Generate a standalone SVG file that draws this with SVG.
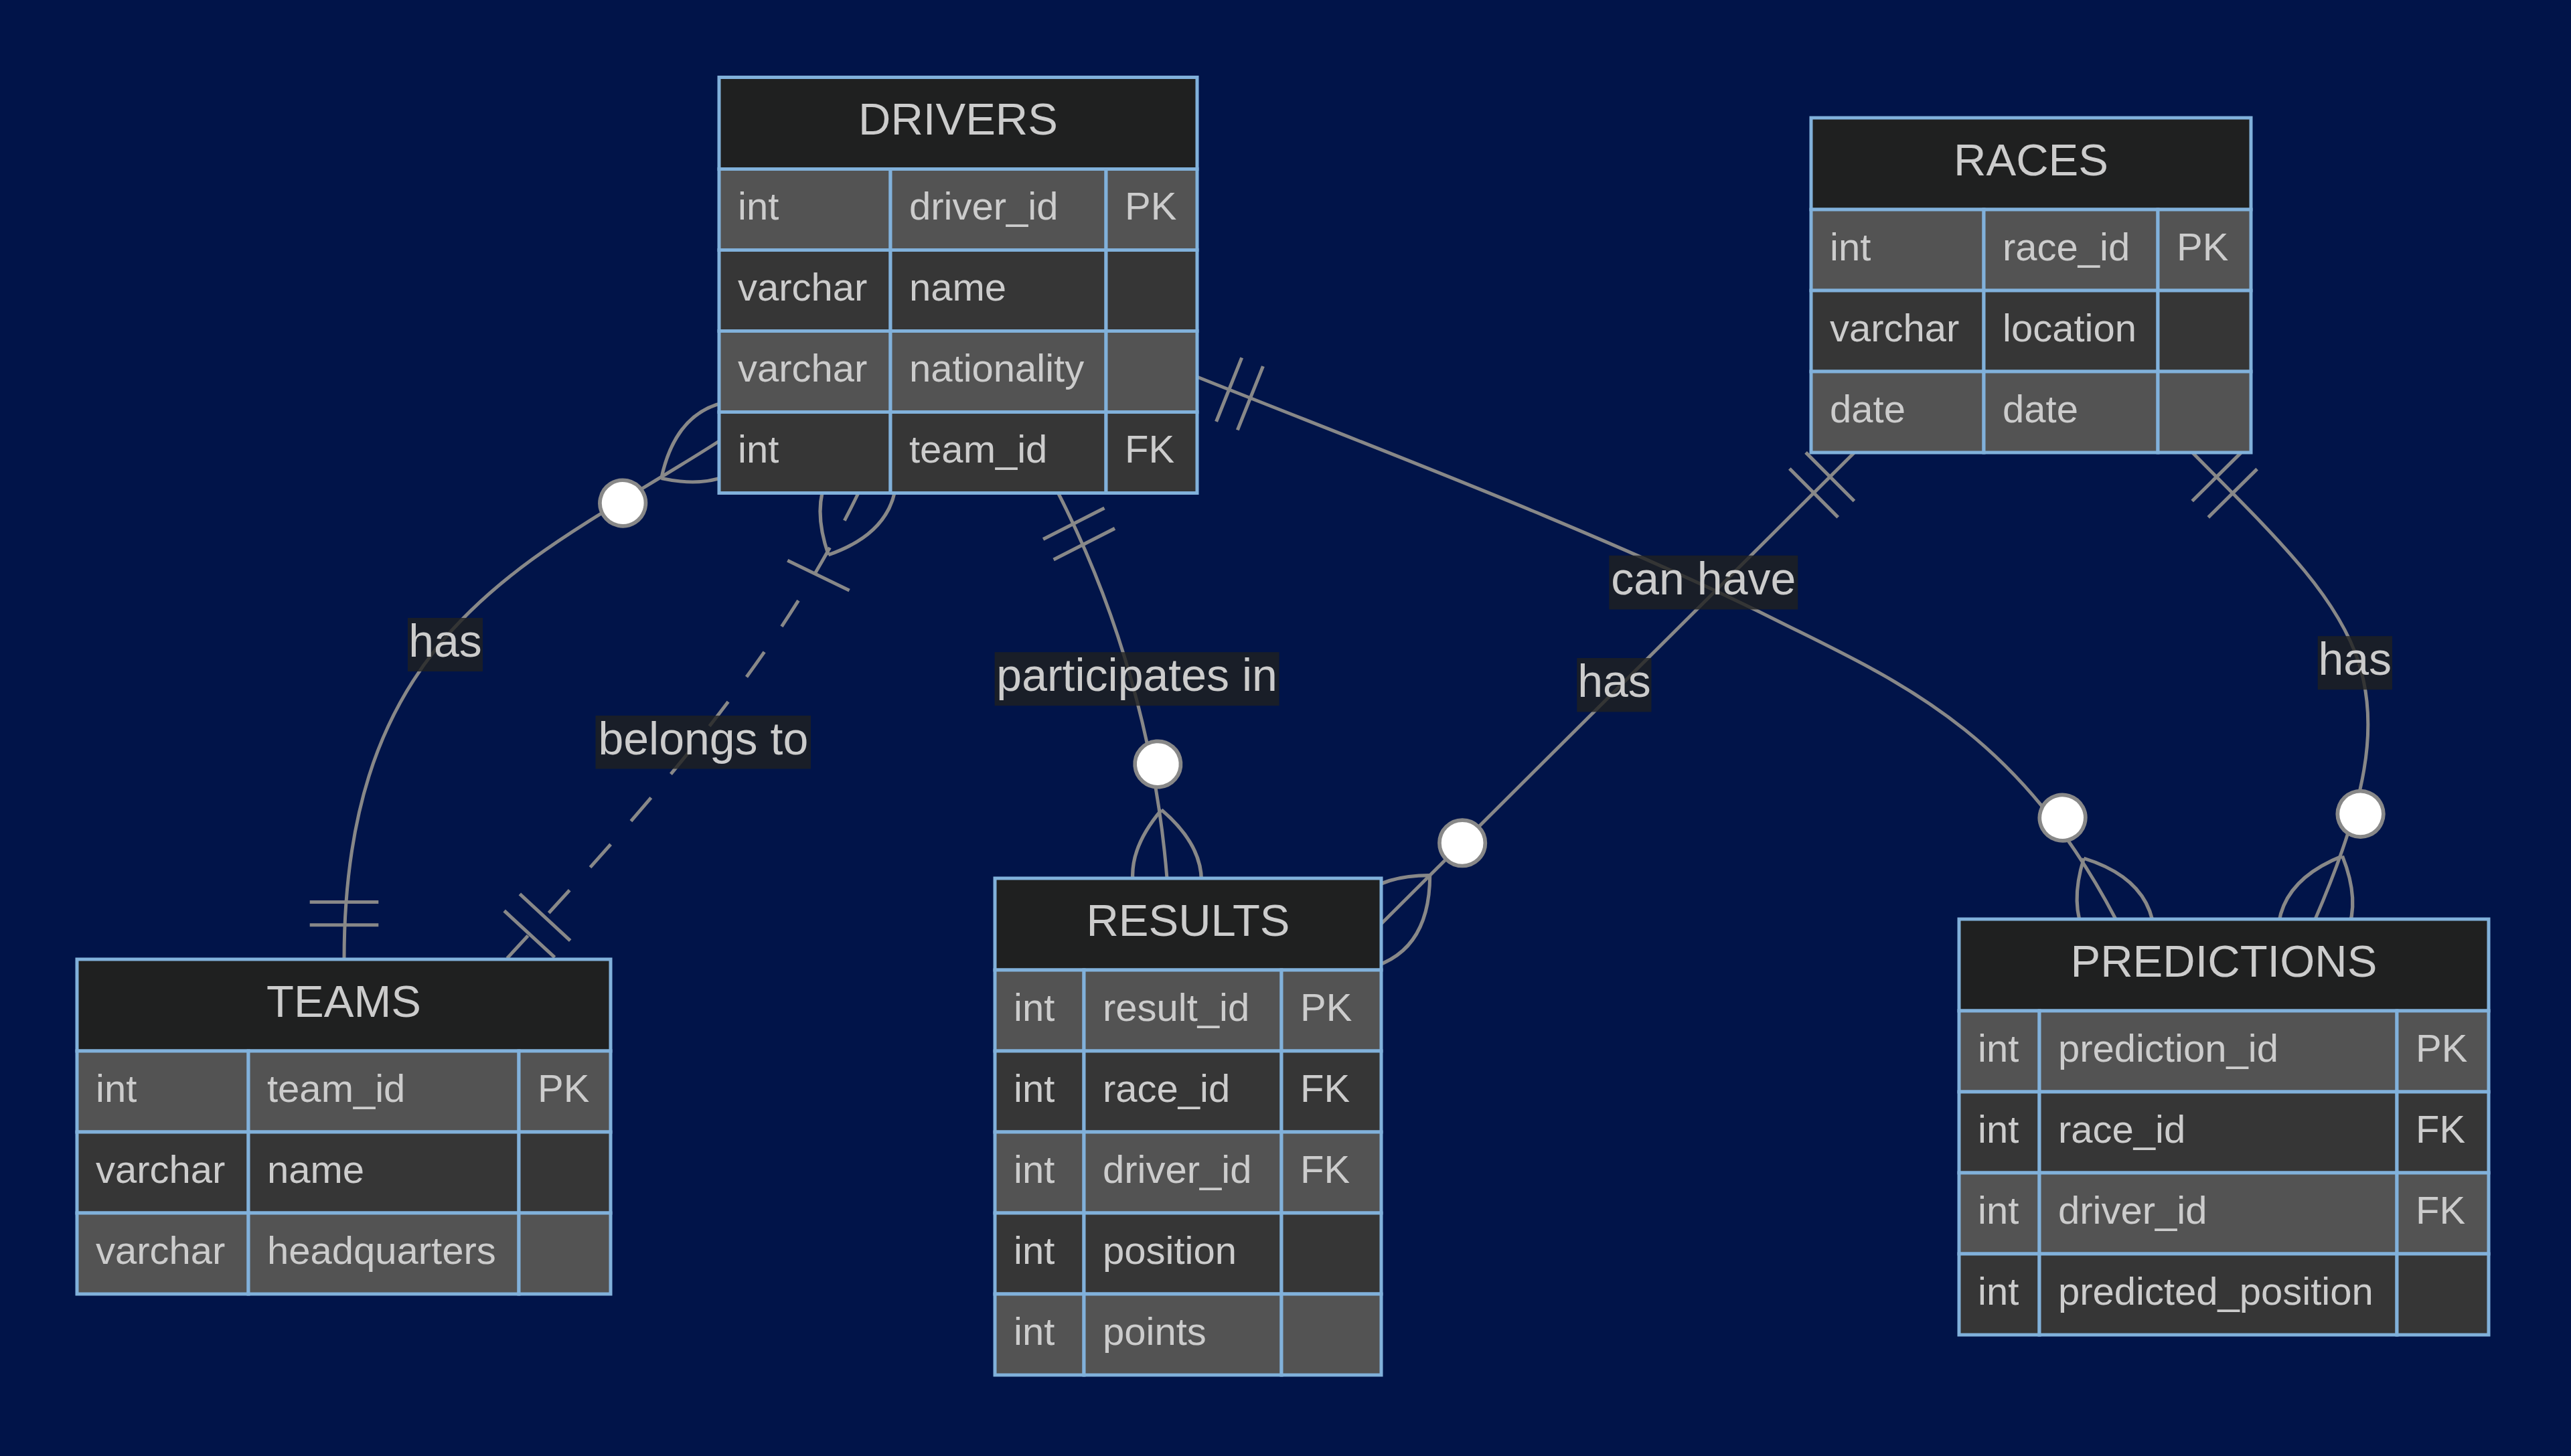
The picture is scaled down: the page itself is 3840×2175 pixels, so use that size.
<svg xmlns="http://www.w3.org/2000/svg" width="3840" height="2175" viewBox="0 0 3840 2175">
<style>
.bg{fill:#011449}
.ln{fill:none;stroke:#888;stroke-width:5}
.dash{stroke-dasharray:46 46}
.mk{fill:none;stroke:#888;stroke-width:0.9;stroke-dasharray:none}
.mkc{fill:#fff;stroke:#888;stroke-width:1;stroke-dasharray:none}
.hd{fill:#1f2020;stroke:#81b1db;stroke-width:5}
.ro{fill:#535353;stroke:#81b1db;stroke-width:5}
.re{fill:#363636;stroke:#81b1db;stroke-width:5}
.ht{font-family:"Liberation Sans",Arial,sans-serif;font-size:67px;fill:#ccc;text-anchor:middle}
.at{font-family:"Liberation Sans",Arial,sans-serif;font-size:58px;fill:#ccc}
.lb{fill:#1f2020;opacity:0.8}
.lt{font-family:"Liberation Sans",Arial,sans-serif;font-size:68px;fill:#ccc;text-anchor:middle}
</style>
<defs>
<marker id="one" viewBox="0 0 18 18" refX="18" refY="9" markerWidth="102.6" markerHeight="102.6" markerUnits="userSpaceOnUse" orient="auto-start-reverse" overflow="visible">
<path class="mk" d="M3,0 L3,18 M9,0 L9,18"/>
</marker>
<marker id="zeroMany" viewBox="0 0 57 36" refX="39" refY="18" markerWidth="324.9" markerHeight="205.2" markerUnits="userSpaceOnUse" orient="auto-start-reverse" overflow="visible">
<circle class="mkc" cx="9" cy="18" r="6"/>
<path class="mk" d="M21,18 Q39,0 57,18 Q39,36 21,18"/>
</marker>
<marker id="oneMany" viewBox="0 0 57 36" refX="39" refY="18" markerWidth="324.9" markerHeight="205.2" markerUnits="userSpaceOnUse" orient="auto-start-reverse" overflow="visible">
<path class="mk" d="M21,18 Q39,0 57,18 Q39,36 21,18 M15,9 L15,27"/>
</marker>
</defs>
<rect class="bg" x="0" y="0" width="3840" height="2175"/>
<g id="connectors">
<path id="e-teams-drivers" class="ln" d="M514,1433 C514,933 796.5,837.5 1074,659" marker-start="url(#one)" marker-end="url(#zeroMany)"/>
<path id="e-drivers-teams" class="ln dash" d="M1282,736.5 C1155.6,997.8 952.9,1219.9 756,1433" marker-start="url(#oneMany)" marker-end="url(#one)"/>
<path id="e-drivers-results" class="ln" d="M1580.5,736.5 C1671.3,914.7 1727,1112.6 1743,1312" marker-start="url(#one)" marker-end="url(#zeroMany)"/>
<path id="e-drivers-predictions" class="ln" d="M1788,563 C2057.1,670.6 2392.7,796.4 2652,926 C2830.8,1015.4 3011,1089 3160,1373" marker-start="url(#one)" marker-end="url(#zeroMany)"/>
<path id="e-races-results" class="ln" d="M2769.6,676 L2063,1380" marker-start="url(#one)" marker-end="url(#zeroMany)"/>
<path id="e-races-predictions" class="ln" d="M3274.5,676 C3527.9,931.6 3616,1005.8 3458,1373" marker-start="url(#one)" marker-end="url(#zeroMany)"/>
</g>
<g id="DRIVERS">
<rect class="hd" x="1074" y="115.5" width="714" height="137"/>
<text class="ht" x="1431" y="201">DRIVERS</text>
<rect class="ro" x="1074" y="252.5" width="256" height="121"/><rect class="ro" x="1330" y="252.5" width="322" height="121"/><rect class="ro" x="1652" y="252.5" width="136" height="121"/>
<rect class="re" x="1074" y="373.5" width="256" height="121"/><rect class="re" x="1330" y="373.5" width="322" height="121"/><rect class="re" x="1652" y="373.5" width="136" height="121"/>
<rect class="ro" x="1074" y="494.5" width="256" height="121"/><rect class="ro" x="1330" y="494.5" width="322" height="121"/><rect class="ro" x="1652" y="494.5" width="136" height="121"/>
<rect class="re" x="1074" y="615.5" width="256" height="121"/><rect class="re" x="1330" y="615.5" width="322" height="121"/><rect class="re" x="1652" y="615.5" width="136" height="121"/>
<text class="at" x="1102" y="328">int</text><text class="at" x="1358" y="328">driver_id</text><text class="at" x="1680" y="328">PK</text>
<text class="at" x="1102" y="449">varchar</text><text class="at" x="1358" y="449">name</text>
<text class="at" x="1102" y="570">varchar</text><text class="at" x="1358" y="570">nationality</text>
<text class="at" x="1102" y="691">int</text><text class="at" x="1358" y="691">team_id</text><text class="at" x="1680" y="691">FK</text>
</g>
<g id="RACES">
<rect class="hd" x="2705" y="176" width="657" height="137"/>
<text class="ht" x="3033.5" y="261.5">RACES</text>
<rect class="ro" x="2705" y="313" width="258" height="121"/><rect class="ro" x="2963" y="313" width="260" height="121"/><rect class="ro" x="3223" y="313" width="139" height="121"/>
<rect class="re" x="2705" y="434" width="258" height="121"/><rect class="re" x="2963" y="434" width="260" height="121"/><rect class="re" x="3223" y="434" width="139" height="121"/>
<rect class="ro" x="2705" y="555" width="258" height="121"/><rect class="ro" x="2963" y="555" width="260" height="121"/><rect class="ro" x="3223" y="555" width="139" height="121"/>
<text class="at" x="2733" y="388.5">int</text><text class="at" x="2991" y="388.5">race_id</text><text class="at" x="3251" y="388.5">PK</text>
<text class="at" x="2733" y="509.5">varchar</text><text class="at" x="2991" y="509.5">location</text>
<text class="at" x="2733" y="630.5">date</text><text class="at" x="2991" y="630.5">date</text>
</g>
<g id="TEAMS">
<rect class="hd" x="115" y="1433" width="797" height="137"/>
<text class="ht" x="513.5" y="1518.5">TEAMS</text>
<rect class="ro" x="115" y="1570" width="256" height="121"/><rect class="ro" x="371" y="1570" width="404" height="121"/><rect class="ro" x="775" y="1570" width="137" height="121"/>
<rect class="re" x="115" y="1691" width="256" height="121"/><rect class="re" x="371" y="1691" width="404" height="121"/><rect class="re" x="775" y="1691" width="137" height="121"/>
<rect class="ro" x="115" y="1812" width="256" height="121"/><rect class="ro" x="371" y="1812" width="404" height="121"/><rect class="ro" x="775" y="1812" width="137" height="121"/>
<text class="at" x="143" y="1645.5">int</text><text class="at" x="399" y="1645.5">team_id</text><text class="at" x="803" y="1645.5">PK</text>
<text class="at" x="143" y="1766.5">varchar</text><text class="at" x="399" y="1766.5">name</text>
<text class="at" x="143" y="1887.5">varchar</text><text class="at" x="399" y="1887.5">headquarters</text>
</g>
<g id="RESULTS">
<rect class="hd" x="1486" y="1312" width="577" height="137"/>
<text class="ht" x="1774.5" y="1397.5">RESULTS</text>
<rect class="ro" x="1486" y="1449" width="133" height="121"/><rect class="ro" x="1619" y="1449" width="295" height="121"/><rect class="ro" x="1914" y="1449" width="149" height="121"/>
<rect class="re" x="1486" y="1570" width="133" height="121"/><rect class="re" x="1619" y="1570" width="295" height="121"/><rect class="re" x="1914" y="1570" width="149" height="121"/>
<rect class="ro" x="1486" y="1691" width="133" height="121"/><rect class="ro" x="1619" y="1691" width="295" height="121"/><rect class="ro" x="1914" y="1691" width="149" height="121"/>
<rect class="re" x="1486" y="1812" width="133" height="121"/><rect class="re" x="1619" y="1812" width="295" height="121"/><rect class="re" x="1914" y="1812" width="149" height="121"/>
<rect class="ro" x="1486" y="1933" width="133" height="121"/><rect class="ro" x="1619" y="1933" width="295" height="121"/><rect class="ro" x="1914" y="1933" width="149" height="121"/>
<text class="at" x="1514" y="1524.5">int</text><text class="at" x="1647" y="1524.5">result_id</text><text class="at" x="1942" y="1524.5">PK</text>
<text class="at" x="1514" y="1645.5">int</text><text class="at" x="1647" y="1645.5">race_id</text><text class="at" x="1942" y="1645.5">FK</text>
<text class="at" x="1514" y="1766.5">int</text><text class="at" x="1647" y="1766.5">driver_id</text><text class="at" x="1942" y="1766.5">FK</text>
<text class="at" x="1514" y="1887.5">int</text><text class="at" x="1647" y="1887.5">position</text>
<text class="at" x="1514" y="2008.5">int</text><text class="at" x="1647" y="2008.5">points</text>
</g>
<g id="PREDICTIONS">
<rect class="hd" x="2926" y="1373" width="791" height="137"/>
<text class="ht" x="3321.5" y="1458.5">PREDICTIONS</text>
<rect class="ro" x="2926" y="1510" width="120" height="121"/><rect class="ro" x="3046" y="1510" width="534" height="121"/><rect class="ro" x="3580" y="1510" width="137" height="121"/>
<rect class="re" x="2926" y="1631" width="120" height="121"/><rect class="re" x="3046" y="1631" width="534" height="121"/><rect class="re" x="3580" y="1631" width="137" height="121"/>
<rect class="ro" x="2926" y="1752" width="120" height="121"/><rect class="ro" x="3046" y="1752" width="534" height="121"/><rect class="ro" x="3580" y="1752" width="137" height="121"/>
<rect class="re" x="2926" y="1873" width="120" height="121"/><rect class="re" x="3046" y="1873" width="534" height="121"/><rect class="re" x="3580" y="1873" width="137" height="121"/>
<text class="at" x="2954" y="1585.5">int</text><text class="at" x="3074" y="1585.5">prediction_id</text><text class="at" x="3608" y="1585.5">PK</text>
<text class="at" x="2954" y="1706.5">int</text><text class="at" x="3074" y="1706.5">race_id</text><text class="at" x="3608" y="1706.5">FK</text>
<text class="at" x="2954" y="1827.5">int</text><text class="at" x="3074" y="1827.5">driver_id</text><text class="at" x="3608" y="1827.5">FK</text>
<text class="at" x="2954" y="1948.5">int</text><text class="at" x="3074" y="1948.5">predicted_position</text>
</g>
<g id="edge-labels">
<rect class="lb" x="609" y="923" width="112" height="80"/><text class="lt" x="665" y="981">has</text>
<rect class="lb" x="889.5" y="1069" width="321.5" height="79.5"/><text class="lt" x="1050.3" y="1126.7">belongs to</text>
<rect class="lb" x="1485.6" y="974.2" width="425" height="80"/><text class="lt" x="1698.1" y="1032.2">participates in</text>
<rect class="lb" x="2403.3" y="829.8" width="282" height="80.6"/><text class="lt" x="2544.3" y="888">can have</text>
<rect class="lb" x="2355.3" y="983" width="111.2" height="80.5"/><text class="lt" x="2411" y="1041">has</text>
<rect class="lb" x="3461.7" y="950.2" width="111.3" height="80"/><text class="lt" x="3517.3" y="1008">has</text>
</g>
</svg>
